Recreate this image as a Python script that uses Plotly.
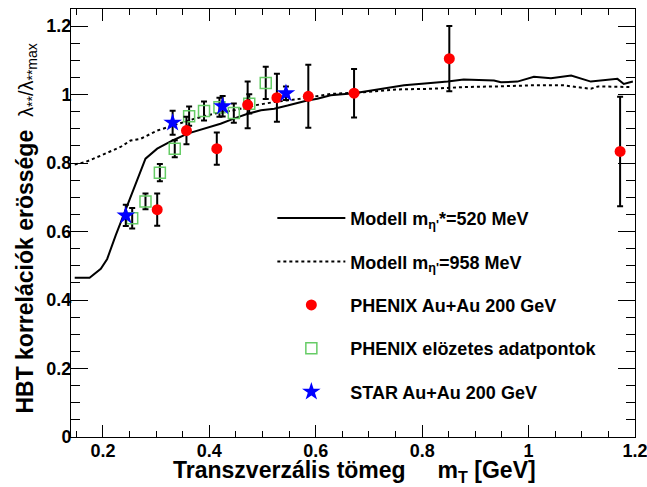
import plotly.graph_objects as go

# ---------------- data ----------------
solid_x = [0.147, 0.175, 0.196, 0.208, 0.224, 0.243, 0.258, 0.280, 0.302, 0.331, 0.359, 0.390,
           0.421, 0.446, 0.472, 0.497, 0.522, 0.547, 0.584, 0.603, 0.628, 0.672, 0.721, 0.766,
           0.816, 0.848, 0.878, 0.935, 0.948, 0.979, 1.010, 1.042, 1.080, 1.117, 1.167, 1.179, 1.196]
solid_y = [0.465, 0.465, 0.491, 0.520, 0.589, 0.667, 0.725, 0.813, 0.842, 0.866, 0.886, 0.900,
           0.915, 0.930, 0.944, 0.954, 0.959, 0.968, 0.983, 0.988, 0.998, 1.004, 1.017, 1.027,
           1.034, 1.038, 1.044, 1.041, 1.036, 1.038, 1.052, 1.048, 1.056, 1.038, 1.046, 1.031, 1.038]

dot_x = [0.147, 0.167, 0.196, 0.233, 0.252, 0.271, 0.302, 0.333, 0.371, 0.408, 0.446, 0.483,
         0.521, 0.572, 0.628, 0.690, 0.754, 0.816, 0.878, 0.942, 1.004, 1.066, 1.117, 1.131, 1.193]
dot_y = [0.796, 0.803, 0.822, 0.847, 0.866, 0.871, 0.895, 0.910, 0.929, 0.944, 0.954, 0.968,
         0.978, 0.988, 1.002, 1.007, 1.015, 1.017, 1.022, 1.024, 1.027, 1.027, 1.017, 1.024, 1.022]

phenix_x = [0.302, 0.357, 0.414, 0.472, 0.527, 0.586, 0.672, 0.851, 1.172]
phenix_y = [0.664, 0.895, 0.842, 0.970, 0.991, 0.995, 1.004, 1.105, 0.834]
phenix_err = [0.047, 0.040, 0.047, 0.068, 0.070, 0.092, 0.071, 0.095, 0.160]

prelim_x = [0.255, 0.280, 0.307, 0.335, 0.362, 0.390, 0.419, 0.446, 0.475, 0.506]
prelim_y = [0.639, 0.688, 0.772, 0.842, 0.937, 0.952, 0.963, 0.946, 0.973, 1.034]
prelim_err = [0.030, 0.023, 0.025, 0.025, 0.028, 0.028, 0.028, 0.028, 0.028, 0.047]

star_x = [0.243, 0.331, 0.425, 0.544]
star_y = [0.647, 0.918, 0.966, 1.004]
star_err = [0.031, 0.035, 0.030, 0.020]

PAD = "<sub>\u00a0</sub>"
names = ["Modell m<sub>η'</sub>*=520 MeV",
         "Modell m<sub>η'</sub>=958 MeV",
         "PHENIX Au+Au 200 GeV" + PAD,
         "PHENIX elözetes adatpontok" + PAD,
         "STAR Au+Au 200 GeV" + PAD]

FONT = "Liberation Sans, Arial, Helvetica, sans-serif"

fig = go.Figure()
fig.add_trace(go.Scatter(x=solid_x, y=solid_y, mode="lines", name=names[0], legendgroup="a",
                         legendrank=1, line=dict(color="black", width=2)))
fig.add_trace(go.Scatter(x=dot_x, y=dot_y, mode="lines", name=names[1], legendgroup="b",
                         legendrank=2, line=dict(color="black", width=2, dash="dot")))
err = dict(type="data", color="black", thickness=2, width=3)
fig.add_trace(go.Scatter(x=prelim_x, y=prelim_y, mode="markers", name=names[3], legendgroup="d",
                         legendrank=4,
                         error_y=dict(err, array=prelim_err),
                         marker=dict(symbol="square-open", size=11, color="#66cc66",
                                     line=dict(width=1.5, color="#66cc66"))))
fig.add_trace(go.Scatter(x=phenix_x, y=phenix_y, mode="markers", name=names[2], legendgroup="c",
                         legendrank=3,
                         error_y=dict(err, array=phenix_err),
                         marker=dict(symbol="circle", size=11, color="#ff0000", line=dict(width=0))))
fig.add_trace(go.Scatter(x=star_x, y=star_y, mode="markers", name=names[4], legendgroup="e",
                         legendrank=5,
                         error_y=dict(err, array=star_err),
                         marker=dict(symbol="star", size=14, color="#0000ff", line=dict(width=0))))

axis_common = dict(showline=True, linecolor="black", linewidth=1, mirror="allticks",
                   ticks="inside", tickcolor="black", tickwidth=1, showgrid=False,
                   zeroline=False, automargin=False, ticklabeloverflow="allow",
                   tickfont=dict(family=FONT, size=18, color="black", weight="bold"))

fig.update_xaxes(range=[0.14, 1.2], dtick=0.2, tick0=0, ticklen=12,
                 minor=dict(dtick=0.05, tick0=0, ticklen=6, ticks="inside", tickcolor="black"),
                 ticklabelstandoff=-3, **axis_common)
fig.update_yaxes(range=[0, 1.25], dtick=0.2, tick0=0, ticklen=17,
                 minor=dict(dtick=0.05, tick0=0, ticklen=9, ticks="inside", tickcolor="black"),
                 ticklabelstandoff=-5, **axis_common)

fig.add_annotation(xref="paper", yref="paper", x=0.502, y=-0.081, xanchor="center", yanchor="middle",
                   showarrow=False,
                   text="<b>Transzverzális tömeg\u00a0\u00a0\u00a0\u00a0\u00a0m<sub>T</sub> [GeV]</b>",
                   font=dict(family=FONT, size=23, color="black"))
fig.add_annotation(xref="paper", yref="paper", x=-0.079, y=0.488, xanchor="center", yanchor="middle",
                   showarrow=False, textangle=-90,
                   text="<b>HBT korrelációk erössége</b>\u00a0\u00a0"
                        "<span style='font-size:20px'>λ<sub>**</sub>/λ<sub>**max</sub></span>",
                   font=dict(family=FONT, size=23, color="black"))

fig.update_layout(
    width=647, height=487,
    margin=dict(l=71, r=12, t=9, b=50),
    paper_bgcolor="white", plot_bgcolor="white",
    showlegend=True,
    legend=dict(x=0.357, y=0.554, xanchor="left", yanchor="top", bgcolor="rgba(0,0,0,0)",
                font=dict(family=FONT, size=18, color="black", weight="bold"),
                tracegroupgap=17, itemwidth=68, traceorder="grouped"),
)

# remove the browser's default 8px body margin so the figure fills the window exactly
fig.write_html("out.html", config={"displayModeBar": False},
               post_script="document.body.style.margin='0';document.body.style.overflow='hidden';")
